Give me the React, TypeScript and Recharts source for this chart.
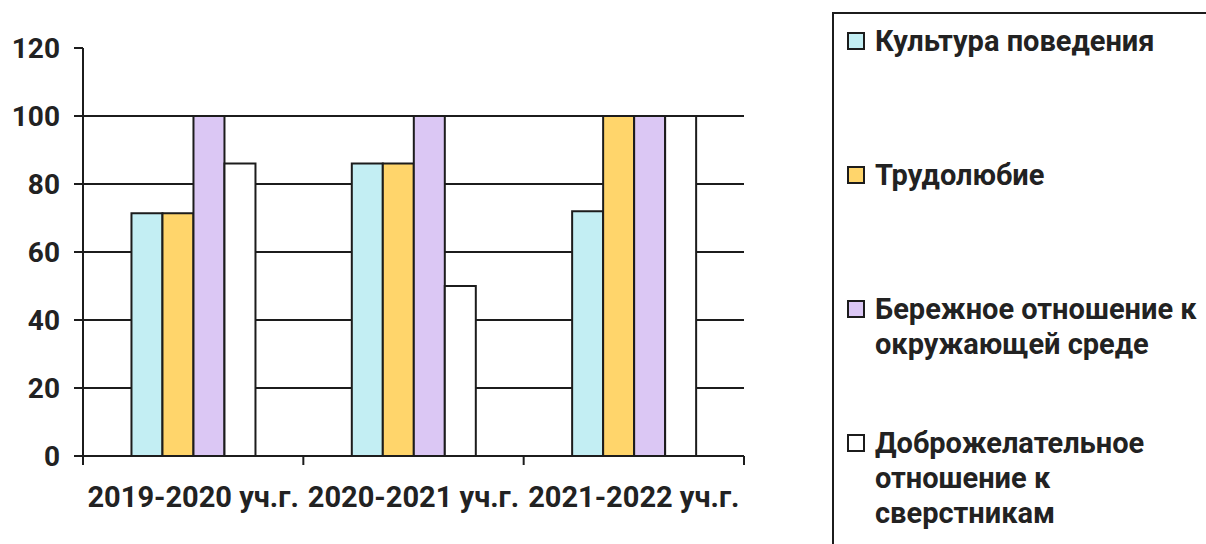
import React from 'react';
import { BarChart, Bar, XAxis, YAxis, CartesianGrid } from 'recharts';

const categories = ['2019-2020 уч.г.', '2020-2021 уч.г.', '2021-2022 уч.г.'];
const cultureValues = [71.4, 86, 72];
const diligenceValues = [71.4, 86, 100];
const natureValues = [100, 100, 100];
const peersValues = [86, 50, 100];

const seriesKeys = ['culture', 'diligence', 'nature', 'peers'];
const seriesNames = [
  'Культура поведения',
  'Трудолюбие',
  'Бережное отношение к\nокружающей среде',
  'Доброжелательное\nотношение к\nсверстникам',
];
const seriesColors = ['#C3EEF3', '#FFD56B', '#DBC7F4', '#FFFFFF'];

const yTicks = [0, 20, 40, 60, 80, 100, 120];
const gridValues = [20, 40, 60, 80, 100];

const data = categories.map((name, i) => ({
  name,
  culture: cultureValues[i],
  diligence: diligenceValues[i],
  nature: natureValues[i],
  peers: peersValues[i],
}));

const FONT = 'Roboto, "Noto Sans", sans-serif';
const INK = '#1c1c1c';
const X_TICK_MARGIN = 30;
const X_TICK_LEN = 9;

// category label plus Excel-style tick marks on the category boundaries
const CategoryTick = (props: any) => {
  const { x, y, payload, index, visibleTicksCount } = props;
  const half = payload.offset || 0;
  const axisY = y - X_TICK_MARGIN;
  const isLast = index === visibleTicksCount - 1;
  return (
    <g>
      <line x1={x - half} x2={x - half} y1={axisY} y2={axisY + X_TICK_LEN} stroke={INK} strokeWidth={2} />
      {isLast && (
        <line x1={x + half} x2={x + half} y1={axisY} y2={axisY + X_TICK_LEN} stroke={INK} strokeWidth={2} />
      )}
      <text
        x={x}
        y={y}
        dy="0.71em"
        textAnchor="middle"
        fontFamily={FONT}
        fontWeight={700}
        fontSize={29}
        fill="#222"
      >
        {payload.value}
      </text>
    </g>
  );
};

const Legend: React.FC = () => (
  <div
    style={{
      position: 'absolute',
      left: 832,
      top: 12,
      width: 420,
      height: 600,
      border: `2px solid ${INK}`,
      boxSizing: 'border-box',
      paddingTop: 10,
      paddingLeft: 13,
      fontFamily: FONT,
      fontWeight: 700,
      fontSize: 29,
      lineHeight: '35px',
      color: '#222',
    }}
  >
    {seriesNames.map((name, i) => (
      <div key={seriesKeys[i]} style={{ display: 'flex', height: 134 }}>
        <div
          style={{
            width: 18,
            height: 18,
            marginTop: 8,
            marginRight: 10,
            border: `2px solid ${INK}`,
            boxSizing: 'border-box',
            background: seriesColors[i],
            flexShrink: 0,
          }}
        />
        <div style={{ whiteSpace: 'pre-line' }}>{name}</div>
      </div>
    ))}
  </div>
);

export default function App() {
  return (
    <div style={{ position: 'absolute', left: 0, top: 0, width: 1206, height: 544, background: '#fff', overflow: 'hidden' }}>
      <BarChart
        width={1206}
        height={544}
        data={data}
        margin={{ top: 48, right: 462, bottom: 28, left: 0 }}
        barCategoryGap="22%"
        barGap={0}
      >
        <CartesianGrid vertical={false} stroke={INK} strokeWidth={2} horizontalValues={gridValues} />
        <XAxis
          dataKey="name"
          height={60}
          tickLine={false}
          tickSize={0}
          tickMargin={X_TICK_MARGIN}
          axisLine={{ stroke: INK, strokeWidth: 2 }}
          tick={<CategoryTick />}
          interval={0}
        />
        <YAxis
          width={83}
          domain={[0, 120]}
          ticks={yTicks}
          tickSize={9}
          tickMargin={14}
          axisLine={{ stroke: INK, strokeWidth: 2 }}
          tickLine={{ stroke: INK, strokeWidth: 2 }}
          tick={{ fontFamily: FONT, fontWeight: 700, fontSize: 28, fill: '#222' }}
        />
        {seriesKeys.map((key, i) => (
          <Bar
            key={key}
            dataKey={key}
            name={seriesNames[i]}
            fill={seriesColors[i]}
            stroke={INK}
            strokeWidth={2}
            isAnimationActive={false}
          />
        ))}
      </BarChart>
      <Legend />
    </div>
  );
}
